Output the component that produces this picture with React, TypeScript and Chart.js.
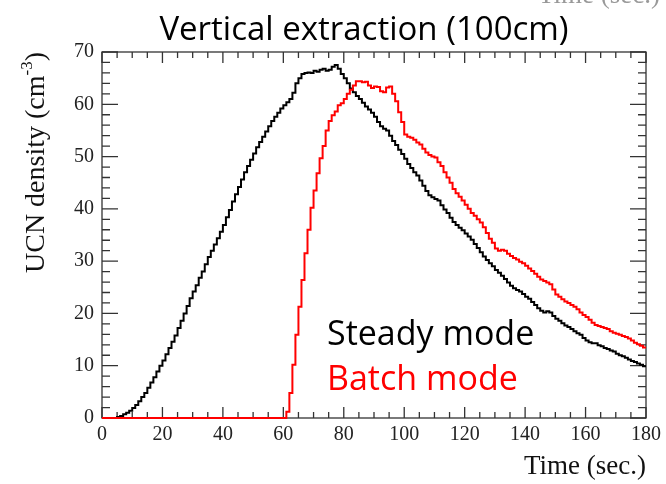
import React, { useEffect, useRef } from "react";
import { Chart, registerables } from "chart.js";

Chart.register(...registerables);

// UCN density per 1-second time bin (bin i covers [i, i+1) sec.)
const steadyMode = [
  0, 0, 0, 0, 0, 0.2, 0.4, 0.7, 1.0, 1.4,
  1.9, 2.5, 3.2, 4.0, 4.8, 5.8, 6.8, 7.8, 8.9, 10.0,
  11.0, 12.2, 13.4, 14.6, 15.8, 17.2, 18.6, 20.0, 21.4, 22.9,
  24.2, 25.4, 26.8, 28.0, 29.4, 30.8, 32.0, 33.2, 34.4, 35.6,
  36.9, 38.4, 39.8, 41.4, 42.8, 44.2, 45.6, 47.0, 48.2, 49.4,
  50.6, 51.8, 52.8, 53.8, 54.8, 55.8, 56.8, 57.6, 58.4, 59.2,
  59.8, 60.4, 61.0, 62.2, 64.0, 65.0, 65.8, 66.0, 66.1, 66.0,
  66.4, 66.2, 66.6, 66.8, 66.4, 66.6, 67.2, 67.5, 66.8, 65.8,
  65.0, 64.0, 63.0, 62.3, 61.6, 61.0, 60.3, 59.6, 59.0, 58.4,
  57.6, 56.6, 55.8, 55.3, 55.0, 54.0, 53.0, 52.2, 51.3, 50.5,
  49.6, 48.6, 47.8, 47.0, 46.4, 45.4, 44.4, 43.4, 42.6, 42.2,
  41.9, 41.6, 40.7, 39.9, 39.2, 38.3, 37.5, 36.9, 36.4, 35.9,
  35.3, 34.7, 34.1, 33.3, 32.5, 31.7, 30.9, 30.2, 29.6, 29.0,
  28.3, 27.8, 27.2, 26.6, 25.9, 25.3, 24.8, 24.5, 24.2, 23.7,
  23.2, 22.8, 22.2, 21.6, 21.0, 20.5, 20.2, 20.4, 20.2, 19.5,
  19.0, 18.6, 18.1, 17.7, 17.4, 17.0, 16.6, 16.2, 15.9, 15.3,
  14.8, 14.5, 14.3, 14.3, 13.9, 13.7, 13.4, 13.2, 12.9, 12.7,
  12.3, 12.0, 11.8, 11.5, 11.2, 10.9, 10.7, 10.4, 10.2, 9.9,
];

const batchMode = [
  0, 0, 0, 0, 0, 0, 0, 0, 0, 0,
  0, 0, 0, 0, 0, 0, 0, 0, 0, 0,
  0, 0, 0, 0, 0, 0, 0, 0, 0, 0,
  0, 0, 0, 0, 0, 0, 0, 0, 0, 0,
  0, 0, 0, 0, 0, 0, 0, 0, 0, 0,
  0, 0, 0, 0, 0, 0, 0, 0, 0, 0,
  0, 1.2, 4.8, 10.2, 15.9, 21.3, 26.4, 31.5, 36.0, 40.2,
  43.5, 46.8, 49.7, 52.0, 55.0, 56.8, 57.9, 58.6, 59.8, 60.2,
  61.0, 62.0, 62.8, 63.6, 64.4, 64.4, 64.2, 64.3, 63.6, 63.1,
  63.4, 63.3, 62.5, 62.3, 63.2, 63.4, 62.0, 60.6, 58.5, 56.6,
  54.2, 53.8, 53.6, 53.2, 52.7, 52.3, 51.5, 50.8, 50.3, 50.0,
  49.8, 48.9, 48.2, 47.0, 46.0, 45.0, 43.8, 43.0, 42.3, 41.6,
  40.8, 40.0, 39.2, 38.7, 38.0, 37.4, 36.5, 35.4, 34.3, 33.5,
  32.4, 32.0, 32.2, 32.0, 31.4, 31.0, 30.6, 30.3, 29.9, 29.6,
  29.1, 28.6, 28.1, 27.6, 27.0, 26.5, 26.2, 25.9, 25.6, 24.6,
  23.6, 23.2, 22.7, 22.3, 22.0, 21.6, 21.3, 20.8, 20.2, 19.7,
  19.3, 18.8, 18.2, 17.8, 17.6, 17.4, 17.2, 17.0, 16.6, 16.3,
  16.1, 15.9, 15.7, 15.5, 15.2, 14.8, 14.4, 14.1, 13.8, 13.5,
];

const xTicks = [0, 20, 40, 60, 80, 100, 120, 140, 160, 180];
const yTicks = [0, 10, 20, 30, 40, 50, 60, 70];
const xMinorTicks = [5, 10, 15, 25, 30, 35, 45, 50, 55, 65, 70, 75, 85, 90, 95, 105, 110, 115, 125, 130, 135, 145, 150, 155, 165, 170, 175];
const yMinorTicks = [2, 4, 6, 8, 12, 14, 16, 18, 22, 24, 26, 28, 32, 34, 36, 38, 42, 44, 46, 48, 52, 54, 56, 58, 62, 64, 66, 68];

const titleText = "Vertical extraction (100cm)";
const xTitle = "Time (sec.)";
const yTitleMain = "UCN density (cm";
const yTitleSup = "-3";
const legendSteady = "Steady mode";
const legendBatch = "Batch mode";

const CHART_LEFT = 102;
const CHART_TOP = 52;
const CHART_RIGHT = 647;
const CHART_BOTTOM = 418;
const W = 666;
const H = 484;

function toHist(values: number[]) {
  const pts = values.map((v, i) => ({ x: i, y: v }));
  pts.push({ x: values.length, y: values[values.length - 1] });
  return pts;
}

const framePlugin = {
  id: "rootFrame",
  beforeDatasetsDraw(chart: any) {
    const { ctx, chartArea, scales } = chart;
    const xs = scales.x;
    const ys = scales.y;
    ctx.save();
    ctx.strokeStyle = "#333";
    ctx.lineWidth = 1.3;
    ctx.strokeRect(chartArea.left, chartArea.top, chartArea.right - chartArea.left, chartArea.bottom - chartArea.top);
    ctx.beginPath();
    const tick = (x1: number, y1: number, x2: number, y2: number) => {
      ctx.moveTo(x1, y1);
      ctx.lineTo(x2, y2);
    };
    xTicks.forEach((t) => {
      const px = xs.getPixelForValue(t);
      tick(px, chartArea.bottom, px, chartArea.bottom - 11);
      tick(px, chartArea.top, px, chartArea.top + 11);
    });
    xMinorTicks.forEach((t) => {
      const px = xs.getPixelForValue(t);
      tick(px, chartArea.bottom, px, chartArea.bottom - 6);
      tick(px, chartArea.top, px, chartArea.top + 6);
    });
    yTicks.forEach((t) => {
      const py = ys.getPixelForValue(t);
      tick(chartArea.left, py, chartArea.left + 16, py);
      tick(chartArea.right, py, chartArea.right - 16, py);
    });
    yMinorTicks.forEach((t) => {
      const py = ys.getPixelForValue(t);
      tick(chartArea.left, py, chartArea.left + 8, py);
      tick(chartArea.right, py, chartArea.right - 8, py);
    });
    ctx.stroke();
    ctx.restore();
  },
  afterDraw(chart: any) {
    const { ctx, chartArea } = chart;
    ctx.save();
    // title
    ctx.fillStyle = "#000";
    ctx.font = "33px 'Open Sans'";
    ctx.textAlign = "center";
    ctx.textBaseline = "alphabetic";
    ctx.fillText(titleText, 364, 40);
    // cropped text at top right (from a plot above)
    ctx.fillStyle = "#999";
    ctx.font = "27px 'Liberation Serif'";
    ctx.textAlign = "right";
    ctx.fillText(xTitle, 660, 3);
    // x title
    ctx.fillStyle = "#111";
    ctx.font = "27px 'Liberation Serif'";
    ctx.textAlign = "right";
    ctx.fillText(xTitle, chartArea.right, 474);
    // y title (rotated), right-aligned to top of axis
    ctx.save();
    ctx.translate(44, chartArea.top);
    ctx.rotate(-Math.PI / 2);
    ctx.textAlign = "left";
    ctx.font = "28px 'Liberation Serif'";
    const mainW = ctx.measureText(yTitleMain).width;
    ctx.font = "17px 'Liberation Serif'";
    const supW = ctx.measureText(yTitleSup).width;
    ctx.font = "28px 'Liberation Serif'";
    const closeW = ctx.measureText(")").width;
    const total = mainW + supW + closeW;
    let x0 = -total;
    ctx.fillText(yTitleMain, x0, 0);
    x0 += mainW;
    ctx.font = "17px 'Liberation Serif'";
    ctx.fillText(yTitleSup, x0, -12);
    x0 += supW;
    ctx.font = "28px 'Liberation Serif'";
    ctx.fillText(")", x0, 0);
    ctx.restore();
    // legend texts
    ctx.font = "34px 'Open Sans'";
    ctx.textAlign = "left";
    ctx.fillStyle = "#000";
    ctx.fillText(legendSteady, 327, 345);
    ctx.fillStyle = "#ff0000";
    ctx.fillText(legendBatch, 327, 390);
    ctx.restore();
  },
};

export default function App() {
  const canvasRef = useRef<HTMLCanvasElement | null>(null);

  useEffect(() => {
    const canvas = canvasRef.current;
    if (!canvas) return;
    const chart = new Chart(canvas, {
      type: "line",
      data: {
        datasets: [
          {
            label: legendSteady,
            data: toHist(steadyMode),
            borderColor: "#000000",
            borderWidth: 2,
            pointRadius: 0,
            stepped: "before",
            fill: false,
            clip: false,
            order: 2,
          },
          {
            label: legendBatch,
            data: toHist(batchMode),
            borderColor: "#ff0000",
            borderWidth: 2,
            pointRadius: 0,
            stepped: "before",
            fill: false,
            clip: false,
            order: 1,
          },
        ],
      },
      options: {
        animation: false,
        responsive: false,
        devicePixelRatio: 1,
        layout: {
          padding: { left: 0, top: CHART_TOP, right: W - CHART_RIGHT, bottom: 0 },
        },
        plugins: {
          legend: { display: false },
          title: { display: false },
          tooltip: { enabled: false },
        },
        scales: {
          x: {
            type: "linear",
            min: 0,
            max: 180,
            grid: { display: false, drawTicks: false },
            border: { display: false },
            afterFit: (scale: any) => {
              scale.height = H - CHART_BOTTOM;
            },
            afterBuildTicks: (scale: any) => {
              scale.ticks = xTicks.map((v) => ({ value: v }));
            },
            ticks: {
              autoSkip: false,
              maxRotation: 0,
              padding: 5,
              color: "#222",
              font: { family: "'Liberation Serif'", size: 20 },
            },
          },
          y: {
            type: "linear",
            min: 0,
            max: 70,
            grid: { display: false, drawTicks: false },
            border: { display: false },
            afterFit: (scale: any) => {
              scale.width = CHART_LEFT;
            },
            afterBuildTicks: (scale: any) => {
              scale.ticks = yTicks.map((v) => ({ value: v }));
            },
            ticks: {
              autoSkip: false,
              padding: 8,
              color: "#222",
              font: { family: "'Liberation Serif'", size: 20 },
            },
          },
        },
      },
      plugins: [framePlugin],
    });
    return () => chart.destroy();
  }, []);

  return (
    <div style={{ position: "fixed", left: 0, top: 0, width: W, height: H, background: "#fff" }}>
      <canvas ref={canvasRef} width={W} height={H} style={{ width: W, height: H }} />
    </div>
  );
}
